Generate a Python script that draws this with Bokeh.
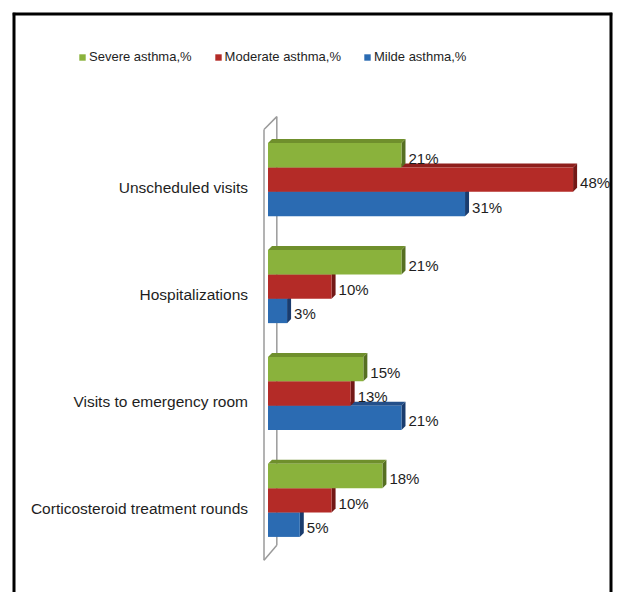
from bokeh.plotting import figure
from bokeh.models import ColumnDataSource, Legend, LegendItem, Range1d, Span
from bokeh.embed import file_html
from bokeh.resources import INLINE
from bokeh.core.properties import value

# ---------------- data ----------------
categories = ["Unscheduled visits", "Hospitalizations",
              "Visits to emergency room", "Corticosteroid treatment rounds"]
series_names = ["Severe asthma,%", "Moderate asthma,%", "Milde asthma,%"]
severe = [21, 21, 15, 18]
moderate = [48, 10, 13, 10]
milde = [31, 3, 21, 5]

# ---------------- style ----------------
FONT = "Liberation Sans"
front_colors = ["#8AB23C", "#B42B27", "#2B6BB2"]
top_colors = ["#6F8F2C", "#8E1F1C", "#234F8A"]
side_colors = ["#566F22", "#731816", "#1A3C6E"]
BAR_H = 0.228      # bar thickness in category units
DX = 0.63          # 3-D depth along x (percent units)
DY = 0.0375        # 3-D depth along y (category units)

n = len(categories)
centers = [n - 1 - i for i in range(n)]
series_vals = [severe, moderate, milde]
series_shift = [1, 0, -1]

xr = Range1d(-40.2, 54.2)
yr = Range1d(-0.862, 4.564)
p = figure(width=617, height=592, output_backend="svg", toolbar_location=None,
           x_range=xr, y_range=yr,
           min_border_left=12, min_border_top=12, min_border_right=5, min_border_bottom=0)
p.xaxis.visible = False
p.yaxis.visible = False
p.grid.visible = False
p.outline_line_color = None
p.background_fill_color = "white"
p.border_fill_color = "white"

# chart border (left, right, top)
for loc, dim in [(xr.start, "height"), (xr.end, "height"), (yr.end, "width")]:
    p.add_layout(Span(location=loc, dimension=dim, line_color="black", line_width=6))

# 3-D side wall next to the category axis
lo, hi = -0.5, n - 0.5
wall_front_x = -DX
wall_back_x = 2.2 * DX
wx = [[wall_front_x, wall_front_x], [wall_back_x, wall_back_x],
      [wall_front_x, wall_back_x], [wall_front_x, wall_back_x]]
wy = [[lo - 0.06, hi - 0.03], [lo + 0.08, hi + 0.09],
      [hi - 0.03, hi + 0.09], [lo - 0.06, lo + 0.08]]
p.multi_line(xs=wx, ys=wy, line_color="#9A9A9A", line_width=1.5)

renderers = {}
for s in [2, 1, 0]:
    vals = series_vals[s]
    ys = [c + series_shift[s] * BAR_H for c in centers]
    bottoms = [y - BAR_H / 2 for y in ys]
    tops = [y + BAR_H / 2 for y in ys]
    side_xs = [[v, v + DX, v + DX, v] for v in vals]
    side_ys = [[b, b + DY, t + DY, t] for b, t in zip(bottoms, tops)]
    top_xs = [[0, DX, v + DX, v] for v in vals]
    top_ys = [[t, t + DY, t + DY, t] for t in tops]
    p.patches(xs=side_xs, ys=side_ys, fill_color=side_colors[s], line_color=None)
    p.patches(xs=top_xs, ys=top_ys, fill_color=top_colors[s], line_color=None)
    src = ColumnDataSource(dict(left=[0] * n, right=vals, bottom=bottoms, top=tops,
                                y=ys, lab=[f"{v}%" for v in vals]))
    r = p.quad(left="left", right="right", bottom="bottom", top="top", source=src,
               fill_color=front_colors[s], line_color=None)
    renderers[s] = r
    p.text(x="right", y="y", text="lab", source=src, x_offset=7, y_offset=3,
           text_font=value(FONT), text_font_size="15px", text_color="#1E1E1E",
           text_align="left", text_baseline="middle")

# category labels
csrc = ColumnDataSource(dict(x=[0] * n, y=centers, t=categories))
p.text(x="x", y="y", text="t", source=csrc, x_offset=-20, y_offset=8,
       text_font=value(FONT), text_font_size="15.5px", text_color="#1E1E1E",
       text_align="right", text_baseline="middle")

legend = Legend(items=[LegendItem(label=series_names[s], renderers=[renderers[s]]) for s in range(3)],
                location=(66, 528), orientation="horizontal",
                glyph_width=8, glyph_height=8, label_standoff=3, spacing=22,
                padding=0, margin=0, border_line_color=None, background_fill_alpha=0,
                label_text_font=FONT, label_text_font_size="13px", label_text_color="#1E1E1E")
p.add_layout(legend)

open("out.html", "w").write(file_html(p, INLINE))
